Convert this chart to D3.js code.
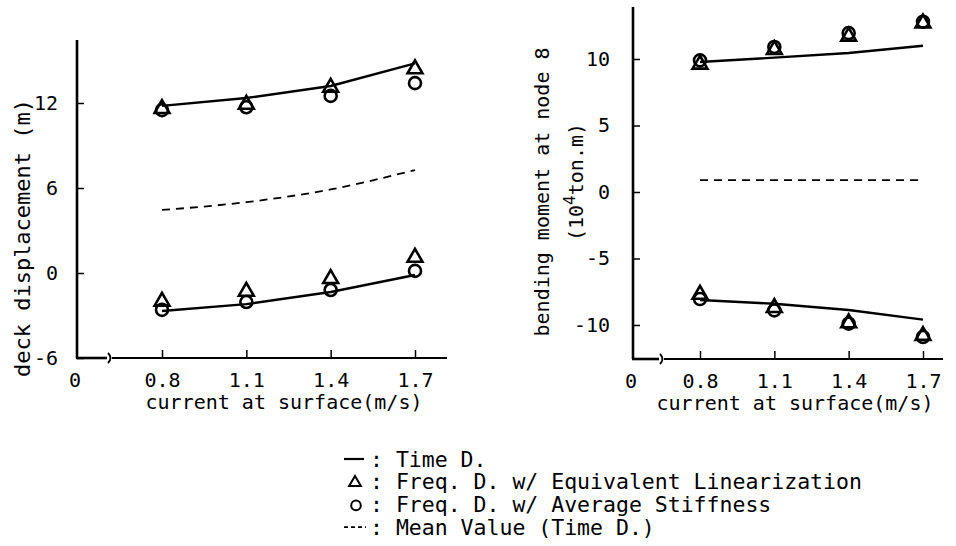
<!DOCTYPE html>
<html>
<head>
<meta charset="utf-8">
<script src="https://cdn.jsdelivr.net/npm/d3@7"></script>
<style>
  html, body { margin: 0; padding: 0; background: #fff; }
  svg { display: block; }
  text { font-family: "DejaVu Sans Mono", "Liberation Mono", monospace; fill: #000; }
</style>
</head>
<body>
<svg id="chart" width="956" height="546"></svg>
<script>
// ---------- data ----------
const currents = [0.8, 1.1, 1.4, 1.7];
const xTickLabels = ["0.8", "1.1", "1.4", "1.7"];

// left panel: deck displacement (m)
const dispTicks = [-6, 0, 6, 12];
const dispTimeUpper = [11.8, 12.35, 13.2, 14.8];
const dispTimeLower = [-2.68, -2.2, -1.34, -0.14];
const dispMean = [4.45, 5.0, 5.9, 7.27];
const dispTriUpper = [11.6, 11.9, 13.1, 14.4];
const dispTriLower = [-2.0, -1.3, -0.4, 1.1];
const dispCircUpper = [11.5, 11.7, 12.5, 13.4];
const dispCircLower = [-2.6, -2.05, -1.2, 0.15];

// right panel: bending moment at node 8 (10^4 ton.m)
const momTicks = [-10, -5, 0, 5, 10];
const momTimeUpper = [9.77, 10.1, 10.45, 11.0];
const momTimeLower = [-8.12, -8.4, -8.87, -9.6];
const momMean = [0.9, 0.9, 0.9, 0.9];
const momTriUpper = [9.6, 10.7, 11.7, 12.7];
const momTriLower = [-7.7, -8.7, -9.85, -10.8];
const momCircUpper = [9.9, 10.9, 11.95, 12.8];
const momCircLower = [-8.05, -8.9, -9.9, -10.9];

const legendItems = [
  { kind: "line", label: "Time D." },
  { kind: "tri", label: "Freq. D. w/ Equivalent Linearization" },
  { kind: "circ", label: "Freq. D. w/ Average Stiffness" },
  { kind: "dash", label: "Mean Value (Time D.)" }
];

// ---------- drawing ----------
const svg = d3.select("#chart");
const SW = 2.4;

function panel(cfg) {
  const g = svg.append("g");
  const x = d3.scaleLinear().domain([0.8, 1.7]).range(cfg.xRange);
  const y = d3.scaleLinear().domain(cfg.yDomain).range(cfg.yRange);

  // y axis with inward ticks
  const yAxis = d3.axisLeft(y).tickValues(cfg.yTicks).tickSizeInner(-7).tickSizeOuter(0).tickPadding(cfg.yPad)
    .tickFormat(d => String(d));
  const ya = g.append("g").attr("transform", `translate(${cfg.axisX},0)`).call(yAxis);
  ya.select(".domain").remove();
  ya.selectAll(".tick line").attr("stroke", "#000").attr("stroke-width", 1.5);
  ya.selectAll(".tick text").attr("font-size", 20).attr("fill", "#000")
    .attr("font-family", "DejaVu Sans Mono");

  // x axis with inward ticks
  const xAxis = d3.axisBottom(x).tickValues(currents).tickSizeInner(-8).tickSizeOuter(0).tickPadding(15)
    .tickFormat((d, i) => xTickLabels[i]);
  const xa = g.append("g").attr("transform", `translate(0,${cfg.baseY})`).call(xAxis);
  xa.select(".domain").remove();
  xa.selectAll(".tick line").attr("stroke", "#000").attr("stroke-width", 1.5);
  xa.selectAll(".tick text").attr("font-size", 20).attr("fill", "#000")
    .attr("font-family", "DejaVu Sans Mono");

  // axis lines with break
  g.append("line").attr("x1", cfg.axisX).attr("x2", cfg.axisX)
    .attr("y1", cfg.topY).attr("y2", cfg.baseY).attr("stroke", "#000").attr("stroke-width", 2.6);
  g.append("line").attr("x1", cfg.axisX - 1).attr("x2", cfg.breakX - 3)
    .attr("y1", cfg.baseY).attr("y2", cfg.baseY).attr("stroke", "#000").attr("stroke-width", 2.6);
  g.append("line").attr("x1", cfg.breakX + 2).attr("x2", cfg.xEnd)
    .attr("y1", cfg.baseY).attr("y2", cfg.baseY).attr("stroke", "#000").attr("stroke-width", 2.2);
  g.append("path")
    .attr("d", `M${cfg.breakX - 2},${cfg.baseY - 5} Q${cfg.breakX + 3},${cfg.baseY} ${cfg.breakX - 2},${cfg.baseY + 5}`)
    .attr("fill", "none").attr("stroke", "#000").attr("stroke-width", 1.8);

  // "0" origin label
  g.append("text").attr("x", cfg.axisX - 2).attr("y", cfg.baseY + 15).attr("dy", "0.71em")
    .attr("text-anchor", "middle").attr("font-size", 20).text("0");

  // x label
  g.append("text").attr("x", cfg.xLabelX).attr("y", cfg.baseY + 51)
    .attr("text-anchor", "middle").attr("font-size", 20).text("current at surface(m/s)");

  const solidLine = d3.line().x((d, i) => x(currents[i])).y(d => y(d)).curve(d3.curveLinear);
  const meanLine = d3.line().x((d, i) => x(currents[i])).y(d => y(d)).curve(d3.curveMonotoneX);

  cfg.solid.forEach(s => g.append("path").attr("d", solidLine(s)).attr("fill", "none")
    .attr("stroke", "#000").attr("stroke-width", SW).attr("stroke-linejoin", "round"));
  g.append("path").attr("d", meanLine(cfg.mean)).attr("fill", "none")
    .attr("stroke", "#000").attr("stroke-width", 1.8).attr("stroke-dasharray", "8,6");

  const tri = d3.symbol().type(d3.symbolTriangle).size(95);
  cfg.circ.forEach(s => s.forEach((v, i) =>
    g.append("circle").attr("cx", x(currents[i])).attr("cy", y(v)).attr("r", 6)
      .attr("fill", "none").attr("stroke", "#000").attr("stroke-width", 2.6)));
  cfg.tri.forEach(s => s.forEach((v, i) =>
    g.append("path").attr("d", tri()).attr("transform", `translate(${x(currents[i])},${y(v)})`)
      .attr("fill", "none").attr("stroke", "#000").attr("stroke-width", 2.6)));
  return g;
}

panel({
  xRange: [162, 415], yDomain: [-6, 12], yRange: [358, 103], baseY: 358, topY: 40, axisX: 77, yPad: 19,
  breakX: 110, xEnd: 447, xLabelX: 284, yTicks: dispTicks,
  solid: [dispTimeUpper, dispTimeLower], mean: dispMean,
  tri: [dispTriUpper, dispTriLower], circ: [dispCircUpper, dispCircLower]
});

panel({
  xRange: [700, 923], yDomain: [-10, 10], yRange: [325, 59], baseY: 359, topY: 7, axisX: 633, yPad: 23,
  breakX: 662, xEnd: 943, xLabelX: 795, yTicks: momTicks,
  solid: [momTimeUpper, momTimeLower], mean: momMean,
  tri: [momTriUpper, momTriLower], circ: [momCircUpper, momCircLower]
});

// y labels
svg.append("text").attr("transform", "translate(30,238) rotate(-90)")
  .attr("text-anchor", "middle").attr("font-size", 22).text("deck displacement (m)");
svg.append("text").attr("transform", "translate(549,192) rotate(-90)")
  .attr("text-anchor", "middle").attr("font-size", 20).text("bending moment at node 8");
const t2 = svg.append("text").attr("transform", "translate(583,182) rotate(-90)")
  .attr("text-anchor", "middle").attr("font-size", 20);
t2.append("tspan").text("(10");
t2.append("tspan").attr("dy", -8).attr("font-size", 16).text("4");
t2.append("tspan").attr("dy", 8).text("ton.m)");

// legend
const lg = svg.append("g");
legendItems.forEach((d, i) => {
  const yy = 459 + i * 22.7;
  const row = lg.append("g").attr("transform", `translate(0,${yy})`);
  if (d.kind === "line") row.append("line").attr("x1", 344).attr("x2", 364).attr("y1", 0).attr("y2", 0)
    .attr("stroke", "#000").attr("stroke-width", 2.2);
  if (d.kind === "dash") row.append("line").attr("x1", 344).attr("x2", 366).attr("y1", 0).attr("y2", 0)
    .attr("stroke", "#000").attr("stroke-width", 1.6).attr("stroke-dasharray", "4,3");
  if (d.kind === "tri") row.append("path").attr("d", d3.symbol().type(d3.symbolTriangle).size(60)())
    .attr("transform", "translate(355,1)").attr("fill", "none").attr("stroke", "#000").attr("stroke-width", 2);
  if (d.kind === "circ") row.append("circle").attr("cx", 356).attr("cy", 1).attr("r", 4.8)
    .attr("fill", "none").attr("stroke", "#000").attr("stroke-width", 2);
  row.append("text").attr("x", 370).attr("y", 0).attr("dy", "0.35em").attr("font-size", 21.5)
    .text(": " + d.label);
});
</script>
</body>
</html>
